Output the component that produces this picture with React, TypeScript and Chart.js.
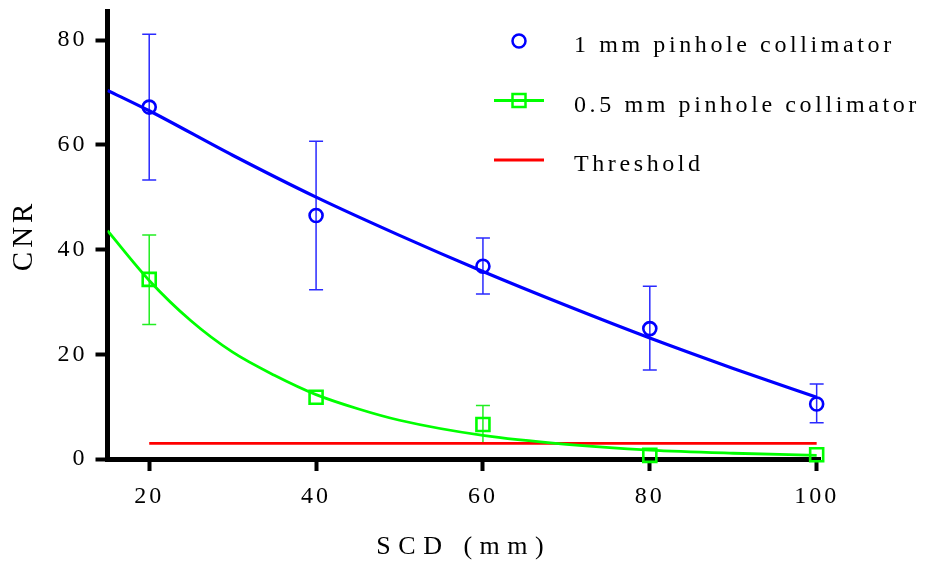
import React, { useEffect, useRef } from 'react';
import { Chart, registerables } from 'chart.js';

Chart.register(...registerables);

// ---- data ----
const X_TICKS = [20, 40, 60, 80, 100];
const Y_TICKS = [0, 20, 40, 60, 80];
const SCD = [20, 40, 60, 80, 100];

const CNR_1MM = [67.2, 46.5, 36.8, 24.9, 10.5];
const CNR_1MM_LOW = [53.3, 32.3, 31.5, 17.0, 6.9];
const CNR_1MM_HIGH = [81.1, 60.7, 42.2, 33.0, 14.3];

const CNR_05MM = [34.3, 11.8, 6.6, 0.7, 0.8];
const CNR_05MM_LOW = [25.7, null, 3.0, null, null];
const CNR_05MM_HIGH = [42.8, null, 10.2, null, null];

const FIT_X_1MM = [15, 20, 30, 40, 50, 60, 70, 80, 90, 100];
const FIT_Y_1MM = [70.4, 66.5, 58.0, 50.0, 42.7, 35.8, 29.3, 23.1, 17.3, 11.8];

const FIT_X_05MM = [15, 20, 25, 30, 35, 40, 45, 50, 60, 70, 80, 90, 100];
const FIT_Y_05MM = [43.6, 34.1, 26.4, 20.4, 16.0, 12.3, 9.6, 7.4, 4.5, 2.8, 1.7, 1.1, 0.7];

const THRESHOLD_X = [20, 100];
const THRESHOLD_Y = [3, 3];

const LABELS = ['1 mm pinhole collimator', '0.5 mm pinhole collimator', 'Threshold'];
const X_TITLE = 'SCD (mm)';
const Y_TITLE = 'CNR';

const BLUE = '#0000ff';
const GREEN = '#00ff00';
const RED = '#ff0000';
const FONT = "'Liberation Serif', 'Times New Roman', serif";

const pts = (xs: number[], ys: number[]) => xs.map((x, i) => ({ x, y: ys[i] }));

// ---- plugins ----
const spacingPlugin = {
  id: 'letterSpacing',
  afterLayout(chart: any) {
    Object.values(chart.scales).forEach((scale: any) => {
      if (scale.__patched) return;
      scale.__patched = true;
      const origTitle = scale.drawTitle;
      const origLabels = scale.drawLabels;
      const titleSp = scale.axis === 'x' ? '7.5px' : '4px';
      scale.drawTitle = function (...args: any[]) {
        const ctx = this.ctx;
        ctx.save();
        ctx.letterSpacing = titleSp;
        origTitle.apply(this, args);
        ctx.restore();
      };
      scale.drawLabels = function (...args: any[]) {
        const ctx = this.ctx;
        ctx.save();
        ctx.letterSpacing = '3px';
        origLabels.apply(this, args);
        ctx.restore();
      };
    });
  },
};

const errorBarPlugin = {
  id: 'errorBars',
  beforeDatasetsDraw(chart: any) {
    const ctx = chart.ctx;
    const xs = chart.scales.x;
    const ys = chart.scales.y;
    chart.data.datasets.forEach((ds: any) => {
      if (!ds.errLow) return;
      ctx.save();
      ctx.strokeStyle = ds.errColor;
      ctx.lineWidth = 1.5;
      ds.data.forEach((p: any, j: number) => {
        const lo = ds.errLow[j];
        const hi = ds.errHigh[j];
        if (lo == null || hi == null) return;
        const x = xs.getPixelForValue(p.x);
        const yl = ys.getPixelForValue(lo);
        const yh = ys.getPixelForValue(hi);
        ctx.beginPath();
        ctx.moveTo(x, yl);
        ctx.lineTo(x, yh);
        ctx.moveTo(x - 7, yl);
        ctx.lineTo(x + 7, yl);
        ctx.moveTo(x - 7, yh);
        ctx.lineTo(x + 7, yh);
        ctx.stroke();
      });
      ctx.restore();
    });
  },
};

const legendPlugin = {
  id: 'customLegend',
  afterDraw(chart: any) {
    const ctx = chart.ctx;
    const items = chart.data.datasets.filter((d: any) => d.legendRow != null);
    ctx.save();
    items.forEach((ds: any) => {
      const y = 41 + ds.legendRow * 59.5;
      const mx = 519;
      ctx.strokeStyle = ds.borderColor;
      if (ds.legendLine) {
        ctx.lineWidth = 2.8;
        ctx.beginPath();
        ctx.moveTo(494, y);
        ctx.lineTo(544, y);
        ctx.stroke();
      }
      if (ds.legendMarker === 'circle') {
        ctx.lineWidth = 2.5;
        ctx.beginPath();
        ctx.arc(mx, y, 6.5, 0, Math.PI * 2);
        ctx.stroke();
      } else if (ds.legendMarker === 'rect') {
        ctx.lineWidth = 2.5;
        ctx.strokeRect(mx - 6.5, y - 6.5, 13, 13);
      }
      ctx.fillStyle = '#000';
      ctx.font = `24px ${FONT}`;
      ctx.letterSpacing = '3.6px';
      ctx.textAlign = 'left';
      ctx.textBaseline = 'alphabetic';
      ctx.fillText(ds.label, 574, y + 11);
    });
    ctx.restore();
  },
};

export default function App() {
  const canvasRef = useRef<HTMLCanvasElement | null>(null);

  useEffect(() => {
    document.body.style.margin = '0';
    const canvas = canvasRef.current;
    if (!canvas) return;

    const chart = new Chart(canvas, {
      type: 'scatter',
      data: {
        datasets: [
          {
            label: LABELS[0],
            data: pts(SCD, CNR_1MM),
            showLine: false,
            pointStyle: 'circle',
            pointRadius: 6.5,
            pointBorderWidth: 2.6,
            borderColor: BLUE,
            backgroundColor: 'rgba(0,0,0,0)',
            pointBackgroundColor: 'rgba(0,0,0,0)',
            pointBorderColor: BLUE,
            clip: false,
            errLow: CNR_1MM_LOW,
            errHigh: CNR_1MM_HIGH,
            errColor: '#2a2aff',
            legendRow: 0,
            legendMarker: 'circle',
            legendLine: false,
          } as any,
          {
            label: LABELS[1],
            data: pts(SCD, CNR_05MM),
            showLine: false,
            pointStyle: 'rect',
            pointRadius: 9.2,
            pointBorderWidth: 2.6,
            borderColor: GREEN,
            backgroundColor: 'rgba(0,0,0,0)',
            pointBackgroundColor: 'rgba(0,0,0,0)',
            pointBorderColor: GREEN,
            clip: false,
            errLow: CNR_05MM_LOW,
            errHigh: CNR_05MM_HIGH,
            errColor: '#22ee22',
            legendRow: 1,
            legendMarker: 'rect',
            legendLine: true,
          } as any,
          {
            label: '1 mm fit',
            data: pts(FIT_X_1MM, FIT_Y_1MM),
            showLine: true,
            borderColor: BLUE,
            borderWidth: 3.2,
            pointRadius: 0,
            cubicInterpolationMode: 'monotone',
          } as any,
          {
            label: '0.5 mm fit',
            data: pts(FIT_X_05MM, FIT_Y_05MM),
            showLine: true,
            borderColor: GREEN,
            borderWidth: 2.8,
            pointRadius: 0,
            cubicInterpolationMode: 'monotone',
          } as any,
          {
            label: LABELS[2],
            data: pts(THRESHOLD_X, THRESHOLD_Y),
            showLine: true,
            borderColor: RED,
            borderWidth: 2.8,
            pointRadius: 0,
            legendRow: 2,
            legendMarker: null,
            legendLine: true,
          } as any,
        ],
      },
      options: {
        responsive: false,
        animation: false,
        events: [],
        layout: { padding: { top: 11, right: 105, left: 0, bottom: 0 } },
        plugins: {
          legend: { display: false },
          tooltip: { enabled: false },
        },
        scales: {
          x: {
            type: 'linear',
            min: 15,
            max: 100.4,
            afterBuildTicks: (s: any) => {
              s.ticks = X_TICKS.map((v) => ({ value: v }));
            },
            afterFit: (s: any) => {
              s.height = 106;
              s.paddingLeft = 0;
              s.paddingRight = 0;
            },
            grid: {
              display: true,
              drawOnChartArea: false,
              drawTicks: true,
              tickLength: 12,
              tickWidth: 4,
              tickColor: '#000',
              color: '#000',
            },
            border: { display: true, color: '#000', width: 5 },
            ticks: {
              color: '#000',
              font: { family: FONT, size: 24 },
              padding: 11,
              maxRotation: 0,
              autoSkip: false,
            },
            title: {
              display: true,
              text: X_TITLE,
              color: '#000',
              font: { family: FONT, size: 26 },
              padding: { top: 0, bottom: 2 },
            },
          },
          y: {
            type: 'linear',
            min: 0,
            max: 85.4,
            afterBuildTicks: (s: any) => {
              s.ticks = Y_TICKS.map((v) => ({ value: v }));
            },
            afterFit: (s: any) => {
              s.width = 107.5;
              s.paddingTop = 0;
              s.paddingBottom = 0;
            },
            grid: {
              display: true,
              drawOnChartArea: false,
              drawTicks: true,
              tickLength: 12,
              tickWidth: 4,
              tickColor: '#000',
              color: '#000',
            },
            border: { display: true, color: '#000', width: 5 },
            ticks: {
              color: '#000',
              font: { family: FONT, size: 24 },
              padding: 8,
              autoSkip: false,
            },
            title: {
              display: true,
              text: Y_TITLE,
              color: '#000',
              font: { family: FONT, size: 29 },
              padding: { top: 7, bottom: 0 },
            },
          },
        },
      } as any,
      plugins: [spacingPlugin, errorBarPlugin, legendPlugin],
    });

    return () => chart.destroy();
  }, []);

  return (
    <div style={{ width: 925, height: 565, position: 'relative', background: '#fff' }}>
      <canvas ref={canvasRef} width={925} height={565} />
    </div>
  );
}
